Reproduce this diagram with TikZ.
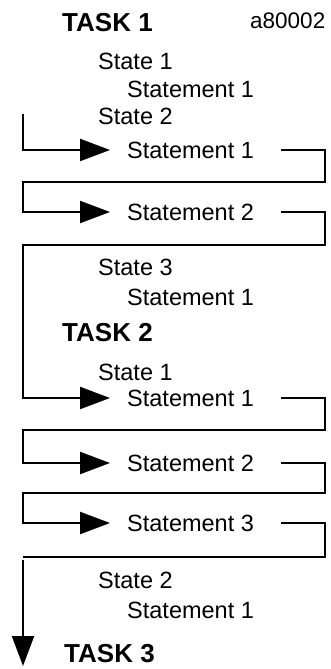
\documentclass[tikz,border=0pt]{standalone}
\usepackage{fontspec}
\setmainfont{Liberation Sans}
\usetikzlibrary{arrows.meta}

\tikzset{
  task/.style={anchor=west, inner sep=0pt, font=\fontsize{26}{30}\selectfont\bfseries},
  line/.style={anchor=west, inner sep=0pt, font=\fontsize{23.5}{28}\selectfont},
  figid/.style={anchor=west, inner sep=0pt, font=\fontsize{22.5}{27}\selectfont},
  wire/.style={line width=2.2pt},
  flow/.style={line width=2.2pt, -{Triangle[length=30pt,width=22pt]}},
}

\begin{document}
\begin{tikzpicture}[x=1pt,y=-1pt]
\useasboundingbox (0,0) rectangle (331,669);

% Define coordinates for the rails
\coordinate (L) at (23,0);
\coordinate (A) at (110,0);
\coordinate (S) at (281,0);
\coordinate (R) at (325,0);
\coordinate (in) at (23,114);
\coordinate (back) at (23,557);
\coordinate (out) at (23,560);
\coordinate (end) at (23,666);

% Task 1
\node[task] (task1) at (62,22.5) {TASK 1};
\node[figid] (fig) at (250,20.5) {a80002};
\node[line] (t1s1) at (98,61) {State 1};
\node[line] (t1s1a) at (127,89.5) {Statement 1};
\node[line] (t1s2) at (98,116.5) {State 2};
\node[line] (t1s2a) at (127,150) {Statement 1};
\node[line] (t1s2b) at (127,212) {Statement 2};
\node[line] (t1s3) at (98,267) {State 3};
\node[line] (t1s3a) at (127,297) {Statement 1};

% Task 2
\node[task] (task2) at (62,333) {TASK 2};
\node[line] (t2s1) at (98,372) {State 1};
\node[line] (t2s1a) at (127,398) {Statement 1};
\node[line] (t2s1b) at (127,463) {Statement 2};
\node[line] (t2s1c) at (127,523) {Statement 3};
\node[line] (t2s2) at (98,580) {State 2};
\node[line] (t2s2a) at (127,610) {Statement 1};

% Task 3
\node[task] (task3) at (64,654) {TASK 3};

% Loop through the statements
\draw[flow] (in) |- (t1s2a -| A);
\draw[flow] (t1s2a -| S) -- (t1s2a -| R) -- ++(0,32) -| (L |- t1s2b) -- (t1s2b -| A);
\draw[flow] (t1s2b -| S) -- (t1s2b -| R) -- ++(0,33) -| (L |- t2s1a) -- (t2s1a -| A);
\draw[flow] (t2s1a -| S) -- (t2s1a -| R) -- ++(0,32) -| (L |- t2s1b) -- (t2s1b -| A);
\draw[flow] (t2s1b -| S) -- (t2s1b -| R) -- ++(0,30) -| (L |- t2s1c) -- (t2s1c -| A);
\draw[wire] (t2s1c -| S) -- (t2s1c -| R) |- (back);

% Exit to the next task
\draw[flow] (out) -- (end);
\end{tikzpicture}
\end{document}
